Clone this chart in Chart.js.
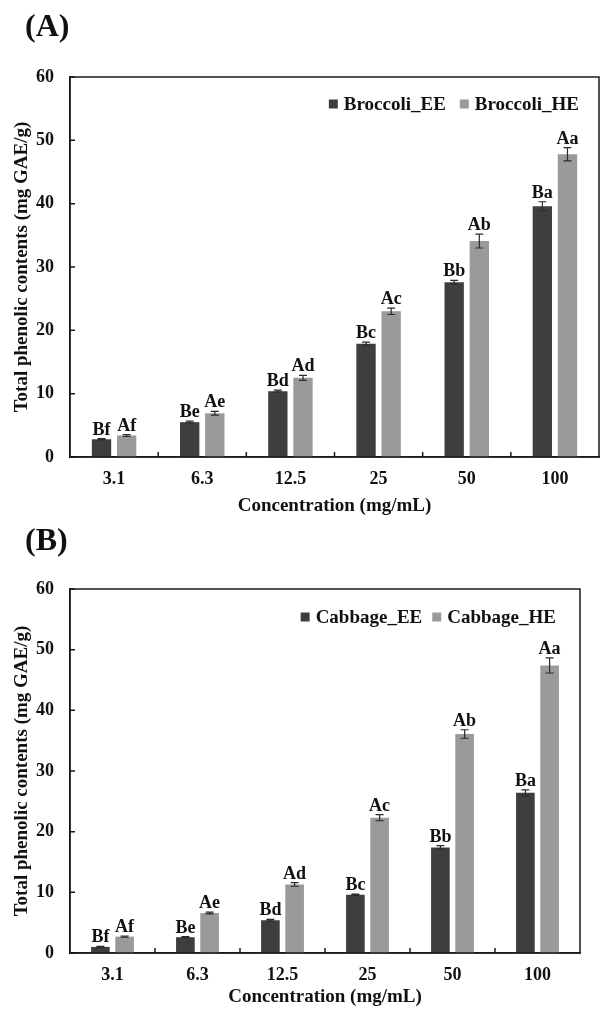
<!DOCTYPE html>
<html>
<head>
<meta charset="utf-8">
<script src="https://cdn.jsdelivr.net/npm/chart.js@4.4.1/dist/chart.umd.min.js"></script>
<style>
  body { margin: 0; background: #fff; }
  .panel { position: absolute; left: 0; width: 602px; }
  .tag { position: absolute; font: bold 32px "Liberation Serif", serif; color: #111; }
</style>
</head>
<body>
<div class="panel" style="top:0;height:520px">
  <div class="tag" style="left:25px;top:7px">(A)</div>
  <canvas id="chartA" width="602" height="520"></canvas>
</div>
<div class="panel" style="top:520px;height:490px">
  <div class="tag" style="left:25px;top:1px">(B)</div>
  <canvas id="chartB" width="602" height="490"></canvas>
</div>
<script>
// categories and values
const concentrations = ['3.1', '6.3', '12.5', '25', '50', '100'];
const yTicks = [0, 10, 20, 30, 40, 50, 60];

const broccoliEE = [2.8, 5.5, 10.4, 17.9, 27.6, 39.6];
const broccoliHE = [3.4, 6.9, 12.5, 23.0, 34.1, 47.8];
const broccoliEEerr = [0.1, 0.15, 0.15, 0.25, 0.3, 0.7];
const broccoliHEerr = [0.15, 0.3, 0.4, 0.5, 1.1, 1.05];
const broccoliEElabels = ['Bf', 'Be', 'Bd', 'Bc', 'Bb', 'Ba'];
const broccoliHElabels = ['Af', 'Ae', 'Ad', 'Ac', 'Ab', 'Aa'];

const cabbageEE = [1.0, 2.6, 5.4, 9.6, 17.4, 26.4];
const cabbageHE = [2.7, 6.6, 11.3, 22.3, 36.1, 47.4];
const cabbageEEerr = [0.1, 0.1, 0.15, 0.1, 0.3, 0.5];
const cabbageHEerr = [0.1, 0.15, 0.3, 0.5, 0.7, 1.25];
const cabbageEElabels = ['Bf', 'Be', 'Bd', 'Bc', 'Bb', 'Ba'];
const cabbageHElabels = ['Af', 'Ae', 'Ad', 'Ac', 'Ab', 'Aa'];

const serif = '"Liberation Serif", "Times New Roman", serif';
const dark = '#3e3e3e';
const light = '#9a9a9a';

// error bars, letters, inner ticks, frame and the legend inside the plot
const extras = {
  id: 'extras',
  afterDatasetsDraw(chart, args, opts) {
    const ctx = chart.ctx;
    const y = chart.scales.y;
    const x = chart.scales.x;
    const area = chart.chartArea;
    ctx.save();
    chart.data.datasets.forEach((ds, di) => {
      const meta = chart.getDatasetMeta(di);
      meta.data.forEach((bar, i) => {
        const top = y.getPixelForValue(ds.data[i] + ds.err[i]);
        const bot = y.getPixelForValue(ds.data[i] - ds.err[i]);
        ctx.strokeStyle = '#2a2a2a';
        ctx.lineWidth = 1.2;
        ctx.beginPath();
        ctx.moveTo(bar.x, top); ctx.lineTo(bar.x, bot);
        ctx.moveTo(bar.x - 4, top); ctx.lineTo(bar.x + 4, top);
        ctx.moveTo(bar.x - 4, bot); ctx.lineTo(bar.x + 4, bot);
        ctx.stroke();
        ctx.fillStyle = '#111';
        ctx.font = 'bold 18px ' + serif;
        ctx.textAlign = 'center';
        ctx.textBaseline = 'alphabetic';
        ctx.fillText(ds.letters[i], bar.x, top - 4);
      });
    });
    ctx.strokeStyle = '#1a1a1a';
    ctx.lineWidth = 1.5;
    ctx.beginPath();
    y.ticks.forEach((t, i) => {
      const py = y.getPixelForTick(i);
      ctx.moveTo(area.left, py); ctx.lineTo(area.left + 5, py);
    });
    for (let i = 0; i < x.ticks.length - 1; i++) {
      const px = (x.getPixelForTick(i) + x.getPixelForTick(i + 1)) / 2;
      ctx.moveTo(px, area.bottom); ctx.lineTo(px, area.bottom - 5);
    }
    ctx.stroke();
    ctx.strokeRect(area.left, area.top, area.right - area.left, area.bottom - area.top);

    // legend
    ctx.font = 'bold 19px ' + serif;
    ctx.textAlign = 'left';
    ctx.textBaseline = 'middle';
    const box = 9, gap = 6, itemGap = opts.itemGap;
    const widths = chart.data.datasets.map(ds => ctx.measureText(ds.label).width);
    let total = widths.reduce((a, w) => a + box + gap + w, 0) + itemGap;
    let lx = area.right - opts.rightGap - total;
    const ly = area.top + opts.topGap;
    chart.data.datasets.forEach((ds, di) => {
      ctx.fillStyle = ds.backgroundColor;
      ctx.fillRect(lx, ly - box / 2, box, box);
      ctx.fillStyle = '#111';
      ctx.fillText(ds.label, lx + box + gap, ly + 1);
      lx += box + gap + widths[di] + itemGap;
    });
    ctx.restore();
  }
};

function makeChart(id, names, ee, he, eeErr, heErr, eeLab, heLab, pad, xBox, xTitlePad, legendOpts) {
  return new Chart(document.getElementById(id), {
    type: 'bar',
    data: {
      labels: concentrations,
      datasets: [
        { label: names[0], data: ee, err: eeErr, letters: eeLab, backgroundColor: dark },
        { label: names[1], data: he, err: heErr, letters: heLab, backgroundColor: light }
      ]
    },
    options: {
      responsive: false,
      animation: false,
      categoryPercentage: 0.57,
      barPercentage: 0.77,
      layout: { padding: pad },
      plugins: {
        tooltip: { enabled: false },
        legend: { display: false },
        extras: legendOpts
      },
      scales: {
        x: {
          afterFit(scale) { scale.height = xBox; },
          grid: { display: false, drawTicks: false },
          border: { color: '#1a1a1a', width: 1.5 },
          ticks: { color: '#111', padding: 12, font: { family: serif, size: 18, weight: 'bold' } },
          title: {
            display: true, text: 'Concentration (mg/mL)', color: '#111',
            padding: { top: 0, bottom: xTitlePad },
            font: { family: serif, size: 19, weight: 'bold' }
          }
        },
        y: {
          min: 0, max: 60,
          afterBuildTicks(scale) { scale.ticks = yTicks.map(v => ({ value: v })); },
          afterFit(scale) { scale.width = 70; },
          grid: { display: false, drawTicks: false },
          border: { color: '#1a1a1a', width: 1.5 },
          ticks: { color: '#111', padding: 16, font: { family: serif, size: 18, weight: 'bold' } },
          title: {
            display: true, text: 'Total phenolic contents (mg GAE/g)', color: '#111',
            padding: { top: 11, bottom: 0 },
            font: { family: serif, size: 19, weight: 'bold' }
          }
        }
      }
    },
    plugins: [extras]
  });
}

makeChart('chartA', ['Broccoli_EE', 'Broccoli_HE'], broccoliEE, broccoliHE,
  broccoliEEerr, broccoliHEerr, broccoliEElabels, broccoliHElabels,
  { top: 77, right: 3, bottom: 0, left: 0 }, 63, 3,
  { itemGap: 14, rightGap: 20, topGap: 27 });
makeChart('chartB', ['Cabbage_EE', 'Cabbage_HE'], cabbageEE, cabbageHE,
  cabbageEEerr, cabbageHEerr, cabbageEElabels, cabbageHElabels,
  { top: 69, right: 22, bottom: 0, left: 0 }, 57, 2,
  { itemGap: 10, rightGap: 24, topGap: 28 });
</script>
</body>
</html>
